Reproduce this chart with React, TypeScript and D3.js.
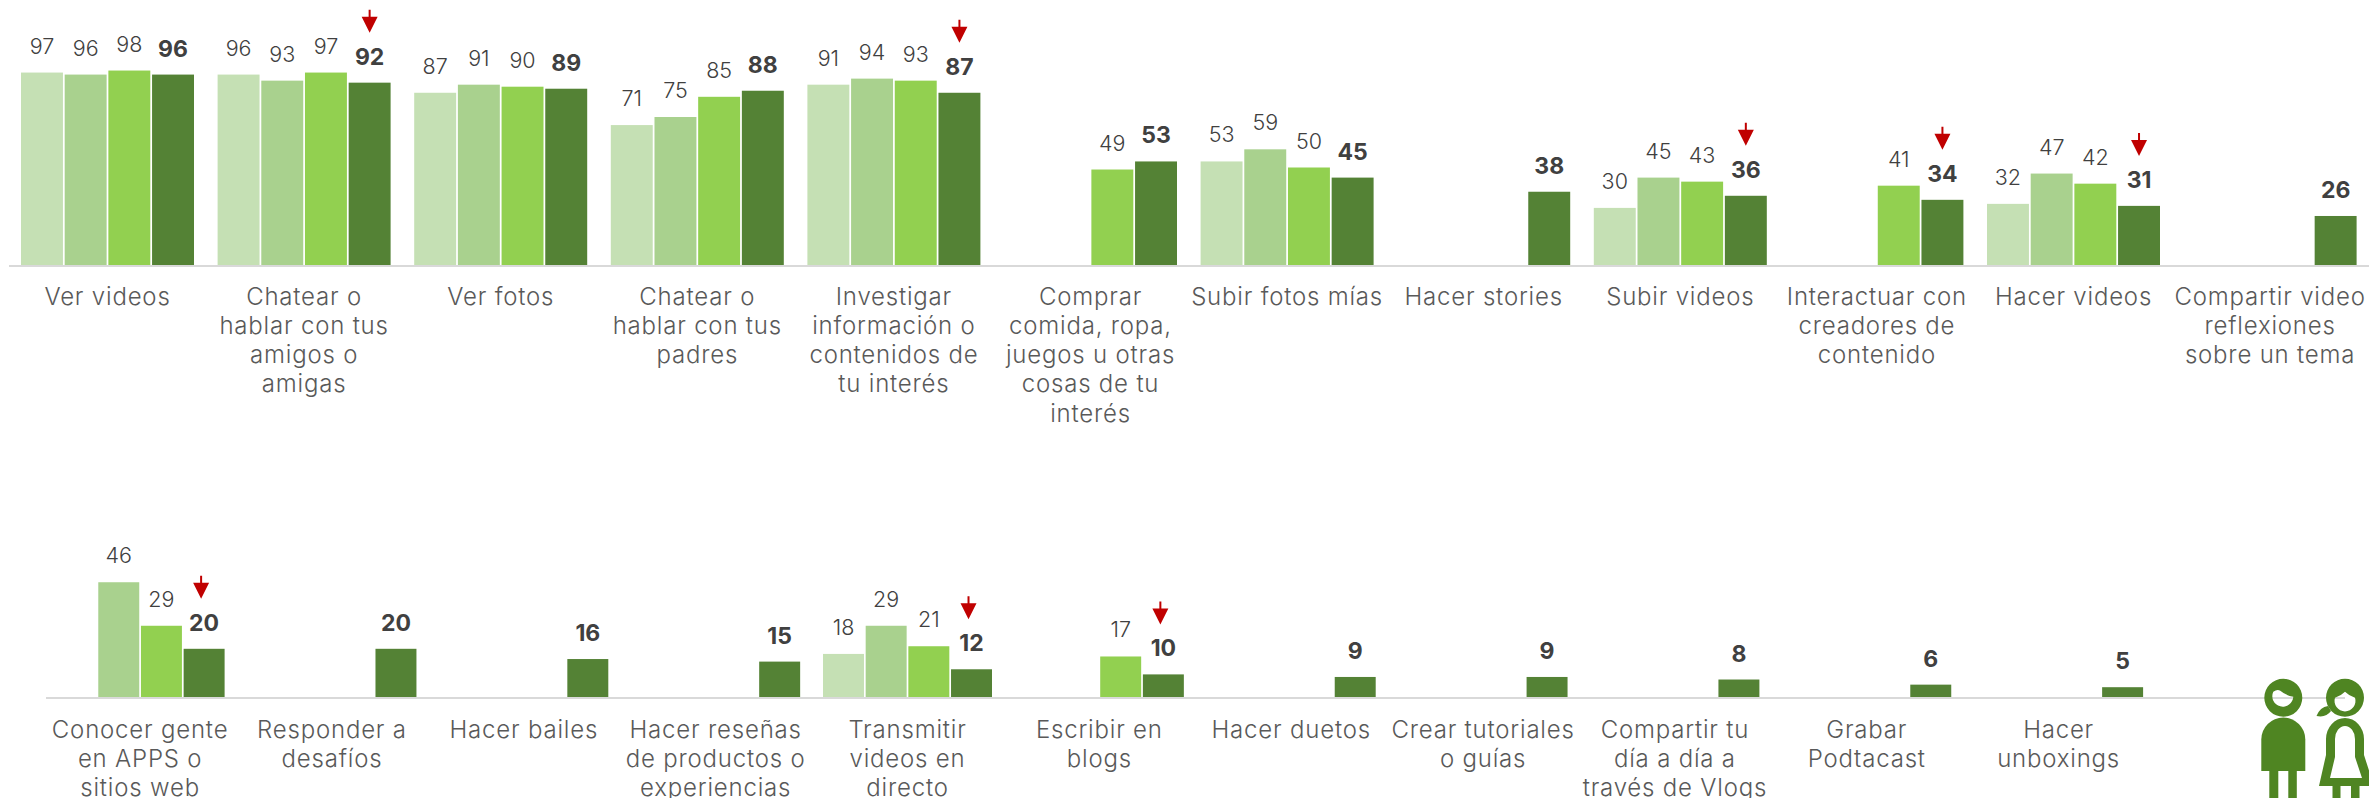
import React, { useEffect, useRef } from 'react';
import * as d3 from 'd3';

const COLORS = ['#C5E0B4', '#A9D18E', '#92D050', '#548235'];
const ARROW = '#C00000';
const ICON = '#4F8522';
const FONT = 'Inter, "Open Sans", sans-serif';

// "|" separates the lines of a label
const topCategories = [
  'Ver videos',
  'Chatear o|hablar con tus|amigos o|amigas',
  'Ver fotos',
  'Chatear o|hablar con tus|padres',
  'Investigar|información o|contenidos de|tu interés',
  'Comprar|comida, ropa,|juegos u otras|cosas de tu|interés',
  'Subir fotos mías',
  'Hacer stories',
  'Subir videos',
  'Interactuar con|creadores de|contenido',
  'Hacer videos',
  'Compartir video|reflexiones|sobre un tema',
];
const topSerieA = [97, 96, 87, 71, 91, null, 53, null, 30, null, 32, null];
const topSerieB = [96, 93, 91, 75, 94, null, 59, null, 45, null, 47, null];
const topSerieC = [98, 97, 90, 85, 93, 49, 50, null, 43, 41, 42, null];
const topSerieD = [96, 92, 89, 88, 87, 53, 45, 38, 36, 34, 31, 26];
const topArrows = [1, 4, 8, 9, 10];

const bottomCategories = [
  'Conocer gente|en APPS o|sitios web',
  'Responder a|desafíos',
  'Hacer bailes',
  'Hacer reseñas|de productos o|experiencias',
  'Transmitir|videos en|directo',
  'Escribir en|blogs',
  'Hacer duetos',
  'Crear tutoriales|o guías',
  'Compartir tu|día a día a|través de Vlogs',
  'Grabar|Podtacast',
  'Hacer|unboxings',
];
const bottomSerieA = [null, null, null, null, 18, null, null, null, null, null, null];
const bottomSerieB = [46, null, null, null, 29, null, null, null, null, null, null];
const bottomSerieC = [29, null, null, null, 21, 17, null, null, null, null, null];
const bottomSerieD = [20, 20, 16, 15, 12, 10, 9, 9, 8, 6, 5];
const bottomArrows = [0, 4, 5];

function drawRow(svg, cfg) {
  const { categories, series, arrows, x0, step, bw, base, unit, axisY, axisX, labelY, lineH, arrowDx } = cfg;
  const g = svg.append('g');

  const x = d3.scaleBand().domain(categories)
    .range([x0, x0 + step * categories.length - (step - bw)])
    .paddingInner(1 - bw / step).paddingOuter(0);
  const xs = d3.scaleBand().domain(d3.range(4)).range([0, x.bandwidth()]).paddingInner(0.04);
  const y = d3.scaleLinear().domain([0, 100]).range([base, base - unit * 100]);

  categories.forEach((cat, i) => {
    const cg = g.append('g').attr('transform', `translate(${x(cat)},0)`);
    series.forEach((vals, s) => {
      const v = vals[i];
      if (v == null) return;
      cg.append('rect')
        .attr('x', xs(s)).attr('y', y(v))
        .attr('width', xs.bandwidth()).attr('height', axisY - y(v))
        .attr('fill', COLORS[s]);
      cg.append('text')
        .attr('x', xs(s) + xs.bandwidth() / 2).attr('y', y(v) - (s === 3 ? 18 : 19))
        .attr('text-anchor', 'middle')
        .attr('font-family', FONT)
        .attr('font-size', s === 3 ? 23 : 21.5)
        .attr('font-weight', s === 3 ? 700 : 300)
        .attr('fill', '#404040')
        .text(v);
    });

    // red arrow over the last bar
    if (arrows.includes(i)) {
      const cx = xs(3) + xs.bandwidth() / 2 + arrowDx;
      const tip = y(series[3][i]) - 50;
      cg.append('path')
        .attr('d', `M${cx - 1},${tip - 23}h2v7h7L${cx},${tip}L${cx - 8},${tip - 16}h7z`)
        .attr('fill', ARROW);
    }

    const lab = g.append('text')
      .attr('text-anchor', 'middle')
      .attr('font-family', FONT)
      .attr('font-size', 24)
      .attr('font-weight', 300)
      .attr('letter-spacing', 0.8)
      .attr('fill', '#595959');
    cat.split('|').forEach((line, k) => {
      lab.append('tspan')
        .attr('x', x(cat) + x.bandwidth() / 2)
        .attr('y', labelY + k * lineH)
        .text(line);
    });
  });

  g.append('line')
    .attr('x1', axisX[0]).attr('x2', axisX[1])
    .attr('y1', axisY).attr('y2', axisY)
    .attr('stroke', '#D9D9D9').attr('stroke-width', 2);
}

function drawIcons(svg) {
  const g = svg.append('g').attr('fill', ICON);
  const cy = 697.7;
  const circle = (cx, r) => `M${cx - r},${cy}a${r},${r} 0 1,0 ${2 * r},0a${r},${r} 0 1,0 ${-2 * r},0z`;

  // boy
  const bx = 2283.3;
  g.append('path').attr('fill-rule', 'evenodd')
    .attr('d', `${circle(bx, 19)}M${bx - 10},${cy - 6}Q${bx - 6},${cy - 9} ${bx - 3},${cy - 7}Q${bx + 3},${cy - 2} ${bx + 10},${cy - 1}A10.5,10.5 0 1,1 ${bx - 10},${cy - 6}z`);
  g.append('path')
    .attr('d', `M${bx - 22},771V739.5A22,22 0 0,1 ${bx + 22},739.5V771z`);
  g.append('rect').attr('x', bx - 14).attr('y', 770).attr('width', 9).attr('height', 28);
  g.append('rect').attr('x', bx + 5).attr('y', 770).attr('width', 8.5).attr('height', 28);

  // girl
  const gx = 2345;
  g.append('path').attr('fill-rule', 'evenodd')
    .attr('d', `${circle(gx, 19)}M${gx - 10},${cy}Q${gx - 4},${cy - 2} ${gx},${cy - 6}Q${gx + 4},${cy - 2} ${gx + 10},${cy}A10.5,10.5 0 1,1 ${gx - 10},${cy}z`);
  g.append('path')
    .attr('d', `M${gx - 17},706Q${gx - 25},707 ${gx - 28.5},716Q${gx - 19},718 ${gx - 14},711z`);
  g.append('path').attr('fill-rule', 'evenodd')
    .attr('d', `M${gx - 19},739A19,21 0 0,1 ${gx + 19},739V755L${gx + 29},786H${gx - 26}L${gx - 19},755z`
      + `M${gx - 10},739V757L${gx - 15},778H${gx + 17}L${gx + 10},757V739A10,13 0 0,0 ${gx - 10},739z`);
  g.append('rect').attr('x', gx - 12.5).attr('y', 785).attr('width', 8).attr('height', 13);
  g.append('rect').attr('x', gx + 6).attr('y', 785).attr('width', 8.5).attr('height', 13);
}

export default function App() {
  const svgRef = useRef<SVGSVGElement>(null);

  useEffect(() => {
    const svg = d3.select(svgRef.current);
    svg.selectAll('*').remove();

    drawRow(svg, {
      categories: topCategories,
      series: [topSerieA, topSerieB, topSerieC, topSerieD],
      arrows: topArrows,
      x0: 21, step: 196.6, bw: 173, base: 268.5, unit: 2.02,
      axisY: 266, axisX: [9, 2369],
      labelY: 304.5, lineH: 29.3, arrowDx: 0,
    });
    drawRow(svg, {
      categories: bottomCategories,
      series: [bottomSerieA, bottomSerieB, bottomSerieC, bottomSerieD],
      arrows: bottomArrows,
      x0: 55.6, step: 191.85, bw: 169, base: 700, unit: 2.56,
      axisY: 698, axisX: [46, 2345],
      labelY: 738, lineH: 29, arrowDx: -3,
    });
    drawIcons(svg);
  }, []);

  return (
    <svg
      ref={svgRef}
      width={2369}
      height={798}
      viewBox="0 0 2369 798"
      style={{ position: 'absolute', left: 0, top: 0, display: 'block', background: '#fff' }}
    />
  );
}
